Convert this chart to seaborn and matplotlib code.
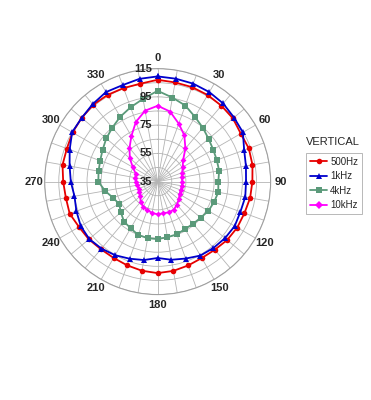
import numpy as np
import pandas as pd
import seaborn as sns
import matplotlib
matplotlib.use('Agg')
from matplotlib import pyplot
from matplotlib.transforms import offset_copy

# angles in degrees, 0 at top, clockwise
angles = list(range(0, 360, 10))
freqs = ['500Hz', '1kHz', '4kHz', '10kHz']

spl_500 = [107.1, 106.3, 106.2, 105.8, 105.2, 104.6, 103.0, 103.7, 103.2, 102.1,
           101.5, 100.4, 100.1, 99.3, 98.0, 97.5, 98.2, 99.2, 99.8, 99.1,
           98.1, 97.4, 97.5, 98.6, 99.3, 101.3, 101.0, 101.9, 103.4, 103.4,
           104.6, 105.2, 106.0, 105.9, 105.5, 105.4]
spl_1k = [109.5, 109.0, 108.8, 108.2, 107.2, 105.6, 104.7, 100.2, 98.5, 97.6,
          98.0, 97.4, 98.0, 97.3, 96.4, 95.5, 93.0, 91.2, 89.1, 91.4,
          93.1, 95.2, 96.9, 98.2, 97.9, 96.2, 94.8, 96.5, 98.3, 101.3,
          104.9, 105.2, 106.6, 108.2, 107.7, 108.9]
spl_4k = [99.3, 95.4, 92.3, 87.9, 84.8, 82.1, 80.4, 79.6, 79.2, 78.0,
          78.6, 77.5, 76.5, 74.8, 74.0, 73.8, 74.7, 75.0, 75.7, 75.7,
          75.2, 73.2, 72.0, 69.0, 66.5, 68.6, 72.8, 77.0, 77.5, 78.3,
          80.0, 82.5, 84.9, 88.0, 91.0, 94.5]
spl_10k = [88.7, 85.4, 78.7, 72.8, 65.6, 58.5, 55.5, 53.5, 52.2, 52.5,
           52.4, 52.4, 52.9, 54.6, 56.3, 57.9, 58.2, 57.7, 58.2, 57.5,
           56.5, 55.5, 53.7, 51.1, 50.0, 49.3, 49.8, 50.4, 51.0, 51.5,
           55.3, 60.7, 66.0, 72.2, 80.0, 86.0]

r_ticks = [35, 55, 75, 95, 115]
theta_labels = [0, 30, 60, 90, 120, 150, 180, 210, 240, 270, 300, 330]

colors = ['#e60000', '#0000cc', '#5b9a7a', '#ff00ff']
markers = ['o', '^', 's', 'D']

rows = []
for name, vals in zip(freqs, [spl_500, spl_1k, spl_4k, spl_10k]):
    # close the loop
    for a, v in zip(angles + [360], vals + [vals[0]]):
        rows.append({'theta': np.deg2rad(a), 'spl': v, 'freq': name})
df = pd.DataFrame(rows)

sns.set_style('white')
pyplot.rcParams['font.family'] = ['Liberation Sans', 'DejaVu Sans']

fig = pyplot.figure(figsize=(3.71, 4.0), dpi=100, facecolor='white')
ax = fig.add_axes([0.1204, 0.2635, 0.609, 0.565], projection='polar')
ax.set_theta_zero_location('N')
ax.set_theta_direction(-1)

sns.lineplot(
    data=df, x='theta', y='spl', hue='freq', style='freq',
    hue_order=freqs, style_order=freqs,
    palette=colors, markers=markers, dashes=False,
    estimator=None, sort=False, linewidth=1.3, markersize=4,
    markeredgewidth=0, ax=ax
)
for line, ms in zip(ax.lines, [4.0, 4.2, 3.8, 3.0]):
    line.set_markersize(ms)

ax.set_rlim(35, 115)
ax.set_rgrids(np.arange(45, 116, 10), labels=[])
ax.set_thetagrids(
    np.arange(0, 360, 10),
    labels=[str(a) if a in theta_labels else '' for a in range(0, 360, 10)]
)
ax.grid(True, color='#b4b4b4', linewidth=0.6)
ax.spines['polar'].set_color('#a0a0a0')
ax.spines['polar'].set_linewidth(0.8)
ax.tick_params(axis='x', pad=-3, labelsize=8)
for lab in ax.get_xticklabels():
    lab.set_fontweight('bold')
ax.set_xlabel('')
ax.set_ylabel('')

trans = offset_copy(ax.transData, fig=fig, x=-4, y=0, units='points')
for r in r_ticks:
    ax.text(0, r, str(r), transform=trans, ha='right', va='center',
            fontsize=8, fontweight='bold', zorder=5)

handles, labels = ax.get_legend_handles_labels()
ax.legend_.remove()
leg = fig.legend(
    handles, labels, loc='upper left',
    bbox_to_anchor=(306 / 371, 1 - 153 / 400),
    frameon=True, fancybox=False, fontsize=7, handlelength=1.8,
    handletextpad=0.3, borderpad=0.4, labelspacing=0.45, borderaxespad=0
)
leg.get_frame().set_edgecolor('#999999')
leg.get_frame().set_linewidth(0.6)
fig.text(333 / 371, 1 - 142 / 400, 'VERTICAL', ha='center', va='center', fontsize=8)

fig.savefig('out.png', dpi=100, facecolor='white')
